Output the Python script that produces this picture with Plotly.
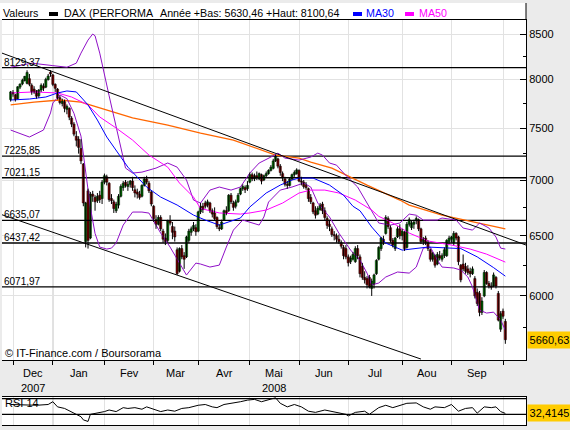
import math
import plotly.graph_objects as go

W, H = 570, 430
def fx(p): return p / W
def fy(p): return 1 - p / H

# ---------------- data (trading-day index 0 = 30 Nov 2007) ----------------
opens = [7790,7865,7840,7800,7920,7955,7990,7960,8010,7940,7900,7880,7830,7890,7930,7920,8000,8080,
 8050,7950,7900,7810,7750,7770,7690,7700,7600,7540,7420,7390,7300,7150,6450,6900,6480,6870,6840,6810,6860,6830,
 6980,7030,6970,6830,6800,6720,6770,6850,6930,6980,6940,6960,6990,6910,6890,6870,6850,6950,7010,6970,6890,
 6760,6640,6600,6660,6540,6480,6460,6630,6580,6540,6380,6200,6390,6330,6320,6460,6530,6560,6570,
 6540,6710,6760,6790,6770,6790,6720,6700,6660,6570,6560,6640,6720,6720,6860,6790,6760,6800,6870,6920,6930,6920,
 6980,7050,7010,7040,7010,7050,7000,7040,7060,7090,7110,7180,7200,7130,7060,7010,6960,6950,7010,7050,7060,
 7090,6990,6980,6950,6920,6840,6790,6720,6690,6730,6780,6720,6650,6600,6560,6510,6500,6470,6440,6400,6390,
 6320,6280,6300,6280,6390,6320,6240,6150,6140,6150,6060,6100,6180,6300,6390,6470,6520,6650,6570,6460,6390,6490,6560,
 6500,6530,6400,6600,6570,6600,6630,6640,6560,6450,6480,6440,6380,6300,6330,6260,6330,6300,6330,6330,6450,
 6470,6440,6520,6490,6250,6260,6240,6220,6200,6180,6140,6030,6020,5870,6000,6190,6100,6080,6080,6150,6020,5740,
 5880,5800]
highs = [7880,7890,7850,7930,7960,8010,8040,8100,8060,7960,7930,7890,7900,7960,7960,8020,8060,8100,
 8060,7960,7910,7830,7800,7790,7740,7710,7620,7560,7470,7420,7390,7160,6800,6920,6890,6900,6860,6880,6900,7000,
 7060,7050,6980,6870,6820,6800,6870,6960,6990,7000,6990,7000,7030,6950,6920,6900,6960,7030,7040,6990,6900,
 6770,6680,6680,6680,6560,6520,6640,6680,6620,6580,6400,6400,6420,6360,6500,6560,6580,6620,6600,
 6720,6790,6790,6810,6820,6800,6740,6750,6670,6600,6640,6730,6760,6870,6880,6810,6820,6880,6930,6960,6950,6990,
 7070,7070,7060,7080,7070,7060,7050,7080,7100,7140,7200,7240,7210,7150,7080,7030,6990,7020,7060,7090,7110,
 7100,7030,7000,6980,6930,6870,6800,6760,6760,6790,6800,6750,6670,6640,6580,6540,6520,6510,6460,6420,6420,
 6340,6330,6360,6410,6420,6340,6270,6200,6160,6170,6140,6180,6300,6410,6490,6500,6680,6670,6590,6480,6490,6580,6600,
 6560,6540,6620,6660,6630,6640,6670,6650,6570,6490,6500,6460,6390,6360,6340,6360,6370,6350,6400,6470,6500,
 6500,6540,6530,6500,6260,6340,6270,6250,6230,6240,6160,6060,6040,5990,6210,6200,6120,6110,6190,6160,6040,5880,
 5900,5820]
lows = [7770,7820,7770,7795,7900,7940,7980,7950,7930,7840,7850,7800,7810,7870,7880,7910,7990,8030,
 7930,7870,7790,7740,7720,7660,7640,7580,7510,7420,7320,7250,7150,6760,6400,6390,6470,6800,6720,6790,6790,6780,
 6960,6950,6800,6780,6700,6700,6740,6840,6900,6930,6900,6930,6900,6840,6830,6820,6840,6940,6960,6880,6760,
 6620,6560,6590,6540,6440,6420,6440,6590,6470,6450,6170,6190,6300,6220,6310,6440,6500,6540,6500,
 6530,6690,6700,6740,6750,6700,6660,6630,6560,6540,6550,6630,6680,6710,6780,6720,6740,6790,6860,6900,6880,6900,
 6970,6990,6990,7000,7000,6960,6990,7020,7050,7080,7100,7170,7110,7040,6990,6940,6920,6940,7000,7030,7050,
 6980,6950,6920,6910,6800,6780,6690,6650,6680,6720,6690,6630,6560,6540,6490,6460,6440,6430,6390,6300,6300,
 6240,6260,6290,6270,6300,6150,6130,6100,6060,6060,6000,6060,6170,6290,6370,6420,6510,6560,6440,6400,6370,6480,6470,
 6460,6370,6390,6580,6550,6560,6600,6540,6430,6420,6420,6370,6280,6280,6230,6250,6290,6280,6310,6320,6430,
 6440,6420,6460,6250,6110,6200,6180,6170,6150,6170,5980,5920,5840,5850,5990,6090,6060,6050,6070,6060,5800,5720,
 5820,5630]
closes = [7870,7848,7790,7924,7952,7993,8034,8076,7950,7870,7870,7825,7890,7940,7910,8002,8038,8060,
 7949,7908,7808,7760,7780,7700,7720,7610,7540,7440,7380,7310,7180,6790,6790,6460,6870,6850,6800,6850,6820,6980,
 7040,6980,6820,6810,6740,6780,6850,6940,6970,6950,6960,6990,6930,6880,6870,6840,6950,7010,6980,6900,6780,
 6650,6600,6660,6560,6470,6450,6630,6610,6530,6490,6180,6390,6320,6300,6490,6540,6560,6590,6535,
 6710,6760,6730,6760,6800,6720,6690,6650,6580,6560,6620,6720,6700,6860,6800,6750,6800,6860,6920,6940,6910,6950,
 7050,7010,7040,7020,7060,6990,7040,7060,7090,7120,7180,7225,7130,7070,7020,6960,6950,7010,7050,7070,7095,
 6990,6980,6940,6930,6830,6800,6710,6680,6740,6770,6720,6660,6590,6580,6510,6500,6470,6450,6410,6330,6320,
 6270,6310,6340,6390,6330,6180,6150,6130,6090,6072,6120,6170,6290,6400,6480,6450,6660,6580,6460,6420,6480,6560,6500,
 6540,6390,6600,6640,6610,6620,6650,6560,6450,6470,6440,6390,6300,6350,6250,6340,6310,6330,6380,6460,6480,
 6490,6520,6480,6280,6130,6220,6200,6190,6180,6220,6000,5940,5870,5960,6190,6100,6080,6070,6170,6080,5810,5860,
 5840,5660.63]

month_labels = ["Dec", "Jan", "Fev", "Mar", "Avr", "Mai", "Jun", "Jul", "Aou", "Sep"]
month_starts = [1, 18, 40, 61, 80, 102, 123, 144, 167, 188, 210]
year_labels = ["2007", "2008"]
year_label_month = [0, 5]          # under "Dec" and "Mai"
level_values = [8129.37, 7225.85, 7021.15, 6635.07, 6437.42, 6071.97]
year_low, year_high = 5630.46, 8100.64
y_ticks = [6000, 6500, 7000, 7500, 8000, 8500]
y_minor = [5750, 6250, 6750, 7250, 7750, 8250]

ma30_x = [0, 8, 15, 20, 24, 28, 33, 37, 41, 45, 50, 52, 58, 64, 71, 78, 83, 89, 98, 102, 109, 115, 120, 123,
          129, 136, 142, 146, 149, 154, 160, 167, 178, 192, 199, 206, 211]
ma30_y = [7786, 7796, 7817, 7859, 7880, 7870, 7735, 7581, 7412, 7284, 7121, 7074, 6935, 6843, 6771, 6681, 6637,
          6593, 6655, 6753, 6880, 6953, 7000, 7018, 7018, 6953, 6860, 6760, 6720, 6576, 6437, 6377, 6403, 6390,
          6320, 6230, 6160]
ma50_x = [0, 10, 20, 26, 33, 38, 45, 52, 59, 64, 67, 72, 78, 81, 89, 98, 102, 109, 116, 123, 128, 134, 140,
          147, 154, 157, 163, 170, 178, 188, 196, 203, 211]
ma50_y = [7859, 7870, 7859, 7817, 7735, 7612, 7501, 7382, 7236, 7160, 7121, 6972, 6843, 6740, 6700, 6690, 6700,
          6726, 6789, 6880, 6907, 6907, 6880, 6816, 6726, 6670, 6611, 6523, 6455, 6420, 6386, 6343, 6276]
malong_x = [0, 10, 21, 30, 38, 52, 67, 81, 95, 109, 113, 123, 128, 137, 152, 166, 170, 184, 199, 211]
malong_y = [7735, 7765, 7786, 7765, 7704, 7602, 7531, 7451, 7382, 7270, 7236, 7207, 7169, 7112, 6953, 6816,
            6771, 6681, 6611, 6560]
bbup_x = [0, 9, 18, 24, 28, 30, 33, 35, 36, 38, 42, 46, 49, 52, 56, 62, 67, 71, 75, 78, 81, 85, 89, 94, 98,
          102, 106, 111, 114, 117, 123, 128, 131, 133, 136, 139, 142, 148, 152, 154, 157, 162, 166, 170, 173,
          176, 182, 184, 190, 193, 197, 200, 204, 207, 209, 211]
bbup_y = [8133, 8177, 8150, 8133, 8177, 8287, 8432, 8500, 8480, 8287, 7830, 7400, 7112, 7065, 7074, 7112, 7160,
          7121, 7000, 6816, 6789, 6907, 6935, 6907, 6935, 7065, 7160, 7217, 7255, 7207, 7188, 7217, 7255, 7236,
          7160, 7140, 7065, 6935, 6789, 6708, 6611, 6593, 6611, 6690, 6680, 6637, 6637, 6655, 6637, 6567, 6549,
          6611, 6567, 6489, 6394, 6386]
bblo_x = [0, 8, 14, 17, 18, 21, 24, 27, 30, 32, 34, 36, 38, 41, 43, 45, 48, 52, 56, 59, 64, 68, 72, 75, 79,
          81, 85, 89, 92, 95, 99, 103, 106, 108, 110, 115, 120, 125, 128, 131, 136, 140, 145, 149, 152, 154,
          157, 160, 165, 170, 173, 176, 179, 182, 184, 189, 192, 195, 197, 200, 203, 206, 209, 211]
bblo_y = [7481, 7412, 7481, 7653, 7755, 7838, 7800, 7650, 7420, 7100, 6750, 6520, 6403, 6386, 6394, 6437, 6593,
          6708, 6708, 6699, 6523, 6403, 6268, 6169, 6268, 6260, 6235, 6251, 6403, 6549, 6637, 6611, 6593, 6664,
          6798, 6907, 6935, 6972, 6935, 6789, 6664, 6523, 6377, 6293, 6185, 6088, 6104, 6153, 6194, 6185, 6235,
          6394, 6403, 6293, 6235, 6227, 6210, 6153, 6072, 5888, 5865, 5872, 5810, 5734]
trend_up_x = [-3.69, 219.81]
trend_up_y = [8287, 6420]
trend_lo_x = [-3.69, 175.0]
trend_lo_y = [6684, 5517]

rsi_x = [0, 11, 16, 18, 20, 23, 27, 30, 31, 33, 34, 37, 40, 42, 45, 48, 50, 53, 56, 58, 62, 64, 67, 70, 73, 76,
         80, 83, 86, 88, 91, 95, 98, 101, 104, 107, 110, 113, 115, 118, 121, 124, 127, 130, 134, 137, 140, 143,
         144, 147, 151, 153, 157, 160, 163, 166, 169, 173, 176, 179, 181, 185, 188, 191, 194, 197, 199, 202,
         205, 207, 209, 211]
rsi_y = [55, 53, 55, 62, 49, 45, 33, 24, 16, 12, 30, 33, 37, 41, 37, 47, 45, 47, 43, 49, 41, 37, 41, 38, 45, 47,
         53, 55, 49, 47, 55, 58, 62, 66, 68, 62, 68, 72, 58, 49, 55, 49, 38, 35, 41, 37, 33, 30, 26, 35, 38, 30,
         47, 53, 47, 53, 58, 59, 49, 43, 49, 47, 55, 38, 45, 47, 33, 49, 47, 49, 37, 32.4145]
rsi_levels = [70, 30]

# ---------------- figure ----------------
XR = [-3.69, 219.81]
idx = list(range(len(closes)))
fmt = lambda v, d=2: f"{v:.{d}f}".replace(".", ",")

fig = go.Figure()

for v in level_values:
    fig.add_trace(go.Scatter(x=XR, y=[v, v], mode="lines", line=dict(color="black", width=1.3)))

fig.add_trace(go.Scatter(x=malong_x, y=malong_y, mode="lines", line=dict(color="#FF6600", width=1.3)))
fig.add_trace(go.Scatter(x=bbup_x, y=bbup_y, mode="lines", line=dict(color="#9010C8", width=1)))
fig.add_trace(go.Scatter(x=bblo_x, y=bblo_y, mode="lines", line=dict(color="#9010C8", width=1)))
fig.add_trace(go.Scatter(x=ma50_x, y=ma50_y, mode="lines", line=dict(color="#FF00FF", width=1)))
fig.add_trace(go.Scatter(x=ma30_x, y=ma30_y, mode="lines", line=dict(color="#0000FF", width=1)))
fig.add_trace(go.Scatter(x=trend_up_x, y=trend_up_y, mode="lines", line=dict(color="black", width=1)))
fig.add_trace(go.Scatter(x=trend_lo_x, y=trend_lo_y, mode="lines", line=dict(color="black", width=1)))

# candles: wicks + bodies
wx, wy = [], []
for i in idx:
    wx += [i, i, None]
    wy += [lows[i], highs[i], None]
fig.add_trace(go.Scatter(x=wx, y=wy, mode="lines", line=dict(color="black", width=1)))
for up, col in ((True, "#00B400"), (False, "#D80000")):
    sel = [i for i in idx if (closes[i] >= opens[i]) == up]
    fig.add_trace(go.Bar(
        x=sel, base=[min(opens[i], closes[i]) for i in sel],
        y=[abs(closes[i] - opens[i]) for i in sel], width=0.95,
        marker=dict(color=col, line=dict(color="black", width=0.5))))

# RSI panel
for v in rsi_levels:
    fig.add_trace(go.Scatter(x=XR, y=[v, v], mode="lines", line=dict(color="black", width=1.3),
                             xaxis="x2", yaxis="y2"))
fig.add_trace(go.Scatter(x=rsi_x, y=rsi_y, mode="lines", line=dict(color="black", width=1),
                         xaxis="x2", yaxis="y2"))

font_main = "Liberation Sans, Arial, sans-serif"
grid = "#E2E2E2"

shapes = [
    dict(type="rect", xref="paper", yref="paper", x0=0, x1=fx(526), y0=fy(19.5), y1=fy(3),
         fillcolor="white", line=dict(width=0), layer="below"),
    dict(type="line", xref="paper", yref="paper", x0=fx(526), x1=fx(526), y0=fy(20), y1=fy(3),
         line=dict(color="black", width=1)),
    dict(type="line", xref="x", yref="paper", x0=month_starts[1], x1=month_starts[1], y0=fy(360), y1=fy(20),
         line=dict(color="#A8A8A8", width=1), layer="between"),
    dict(type="line", xref="x2", yref="paper", x0=month_starts[1], x1=month_starts[1], y0=fy(425), y1=fy(397),
         line=dict(color="#A8A8A8", width=1), layer="between"),
    dict(type="rect", xref="paper", yref="paper", x0=fx(49), x1=fx(58), y0=fy(16), y1=fy(12),
         fillcolor="black", line=dict(width=0)),
    dict(type="rect", xref="paper", yref="paper", x0=fx(353), x1=fx(362), y0=fy(16), y1=fy(12),
         fillcolor="#0000FF", line=dict(width=0)),
    dict(type="rect", xref="paper", yref="paper", x0=fx(405), x1=fx(414), y0=fy(16), y1=fy(12),
         fillcolor="#FF00FF", line=dict(width=0)),
]

ann = []
def header(x, text, color="black"):
    ann.append(dict(xref="paper", yref="paper", x=fx(x), y=fy(13.5), xanchor="left", yanchor="middle",
                    text=text, showarrow=False, font=dict(size=10.7, color=color), borderpad=0))
header(2, "Valeurs")
header(63, "DAX (PERFORMA")
header(159, f"Année +Bas: {fmt(year_low)} +Haut: {fmt(year_high)}")
header(365, "MA30", "#0000FF")
header(418, "MA50", "#FF00FF")

for v in level_values:
    ann.append(dict(xref="paper", yref="y", x=fx(3), y=math.log10(v), xanchor="left", yanchor="bottom",
                    text=fmt(v), showarrow=False, font=dict(size=10), borderpad=0, yshift=-1))

for k, lab in enumerate(month_labels):
    c = (month_starts[k] + month_starts[k + 1]) / 2
    ann.append(dict(xref="x", yref="paper", x=c, y=fy(373), xanchor="center", yanchor="middle",
                    text=lab, showarrow=False, font=dict(size=11)))
for lab, m in zip(year_labels, year_label_month):
    c = (month_starts[m] + month_starts[m + 1]) / 2
    ann.append(dict(xref="x", yref="paper", x=c, y=fy(388), xanchor="center", yanchor="middle",
                    text=lab, showarrow=False, font=dict(size=11)))

ann.append(dict(xref="paper", yref="paper", x=fx(3), y=fy(353), xanchor="left", yanchor="middle",
                text="© IT-Finance.com / Boursorama", showarrow=False, font=dict(size=11)))
ann.append(dict(xref="paper", yref="y", x=fx(527), y=math.log10(closes[-1]), xanchor="left",
                yanchor="middle", text=fmt(closes[-1]), showarrow=False, font=dict(size=11),
                bgcolor="#FFCC00", borderpad=1, width=41, height=14))
ann.append(dict(xref="paper", yref="paper", x=fx(3), y=fy(403), xanchor="left", yanchor="middle",
                text="RSI 14", showarrow=False, font=dict(size=11)))
ann.append(dict(xref="paper", yref="y2", x=fx(527), y=rsi_y[-1], xanchor="left", yanchor="middle",
                text=fmt(rsi_y[-1], 4), showarrow=False, font=dict(size=11),
                bgcolor="#FFCC00", borderpad=1, width=41, height=14))

fig.update_layout(
    width=W, height=H, margin=dict(l=0, r=0, t=0, b=0),
    paper_bgcolor="#EBEBEB", plot_bgcolor="white", showlegend=False,
    font=dict(family=font_main, size=11, color="black"),
    hovermode=False, barmode="overlay",
    xaxis=dict(domain=[fx(2), fx(526)], range=XR, anchor="y",
               tickmode="array", tickvals=month_starts, ticks="outside", ticklen=4, tickcolor="black",
               showticklabels=False, showgrid=True, gridcolor=grid, gridwidth=1, zeroline=False,
               showline=True, linecolor="black", linewidth=1, mirror=True),
    yaxis=dict(domain=[fy(360), fy(20)], type="log", range=[math.log10(5510), math.log10(8660)],
               anchor="x", side="right", tickmode="array", tickvals=y_ticks,
               ticktext=[str(v) for v in y_ticks], ticks="inside", ticklen=6, tickcolor="black",
               minor=dict(tickvals=y_minor, ticks="inside", ticklen=3, tickcolor="black", showgrid=False),
               showgrid=True, gridcolor=grid, zeroline=False, showline=True, linecolor="black",
               tickfont=dict(size=11)),
    xaxis2=dict(domain=[fx(2), fx(526)], range=XR, anchor="y2", tickmode="array", tickvals=month_starts,
                showticklabels=False, ticks="", showgrid=True, gridcolor=grid, zeroline=False,
                showline=True, linecolor="black", mirror=True),
    yaxis2=dict(domain=[fy(425), fy(397)], range=[3, 74], anchor="x2", side="right",
                showticklabels=False, ticks="", showgrid=False, zeroline=False,
                showline=True, linecolor="black"),
    shapes=shapes, annotations=ann,
)

fig.write_html("out.html")
